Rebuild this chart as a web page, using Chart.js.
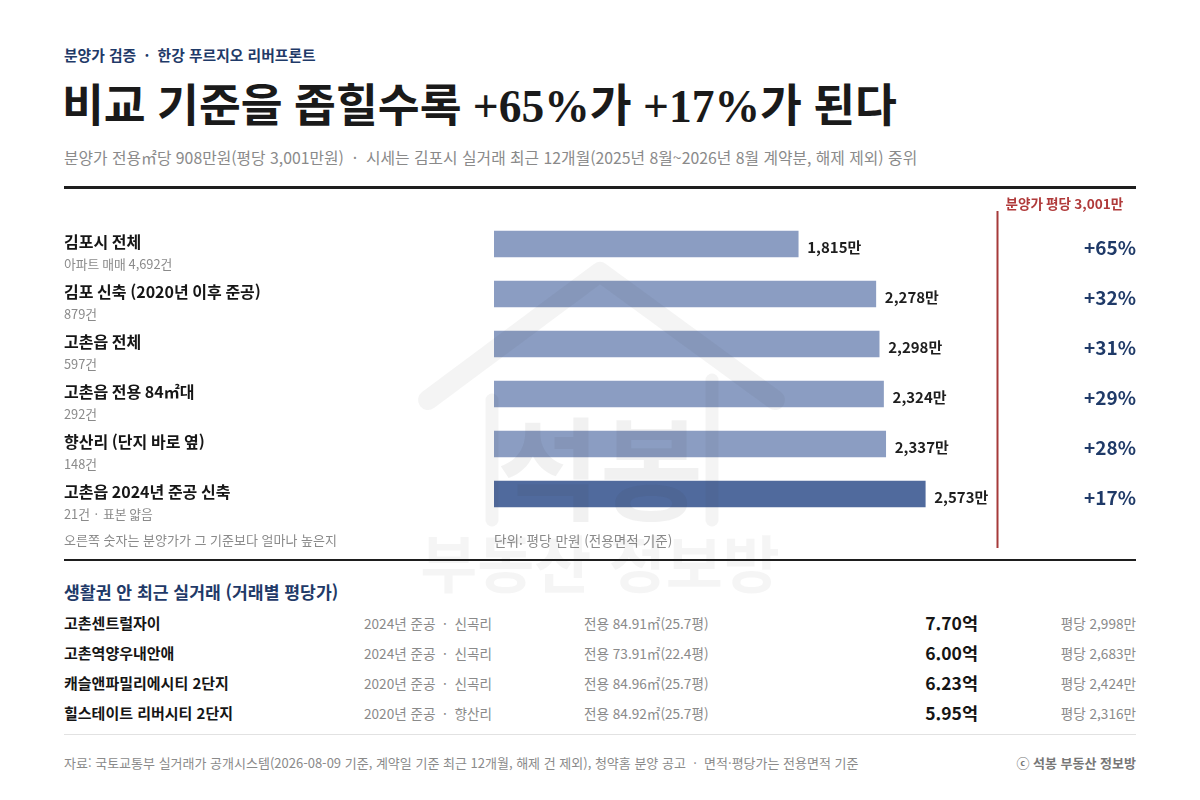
<!DOCTYPE html>
<html lang="ko">
<head>
<meta charset="utf-8">
<title>비교 기준을 좁힐수록 +65%가 +17%가 된다</title>
<script src="https://cdn.jsdelivr.net/npm/chart.js@4.4.0/dist/chart.umd.min.js"></script>
<style>
  body { margin: 0; background: #fff; font-family: "Noto Sans CJK KR", "Noto Sans", sans-serif; }
  #page { position: relative; width: 1200px; height: 800px; overflow: hidden; background: #fff; }
  .abs { position: absolute; white-space: nowrap; }
  .kicker { left: 64px; top: 44px; font-size: 14.8px; line-height: 22px; font-weight: 700; color: #1f3a68; }
  .title { left: 62px; top: 79px; font-size: 45.5px; line-height: 56px; font-weight: 700; color: #1a1a1a;
           font-family: "Liberation Serif", "Noto Sans CJK KR", serif; }
  .subtitle { left: 64px; top: 146px; font-size: 15.8px; line-height: 24px; color: #8a8a8a; }
  .rule-top { left: 64px; top: 186px; width: 1072px; height: 3px; background: #1e1e1e; }
  .rule-mid { left: 64px; top: 559px; width: 1072px; height: 2px; background: #1e1e1e; }
  .rule-light { left: 64px; top: 734px; width: 1072px; height: 1px; background: #e2e2e2; }
  .note { top: 530px; font-size: 13px; line-height: 20px; color: #8a8a8a; }
  #chartBox { position: absolute; left: 64px; top: 190px; width: 1072px; height: 370px; }
  .section { left: 64px; top: 579px; font-size: 17.2px; line-height: 26px; font-weight: 700; color: #1f3a68; }
  .row { position: absolute; left: 64px; width: 1072px; height: 24px; }
  .row span { position: absolute; top: 0; line-height: 24px; white-space: nowrap; }
  .c-name { left: 0; font-size: 15px; font-weight: 700; color: #151515; }
  .c-info { left: 300px; font-size: 13.6px; color: #8a8a8a; }
  .c-area { left: 520px; font-size: 13.6px; color: #8a8a8a; }
  .c-price { right: 158px; font-size: 17.5px; font-weight: 700; color: #151515; }
  .c-pp { right: 0; font-size: 13.6px; color: #8a8a8a; }
  .footer { top: 753px; font-size: 13px; line-height: 20px; color: #8a8a8a; }
  .brand { right: 64px; top: 753px; font-size: 13px; line-height: 20px; font-weight: 700; color: #777; }
  #mark { position: absolute; left: 400px; top: 250px; width: 420px; height: 350px; pointer-events: none; }
</style>
</head>
<body>
<div id="page">
  <div class="abs kicker">분양가 검증 &nbsp;·&nbsp; 한강 푸르지오 리버프론트</div>
  <div class="abs title">비교 기준을 좁힐수록 +65%가 +17%가 된다</div>
  <div class="abs subtitle">분양가 전용㎡당 908만원(평당 3,001만원) &nbsp;·&nbsp; 시세는 김포시 실거래 최근 12개월(2025년 8월~2026년 8월 계약분, 해제 제외) 중위</div>
  <div class="abs rule-top"></div>

  <div id="chartBox"><canvas id="barChart"></canvas></div>

  <div class="abs note" style="left:64px">오른쪽 숫자는 분양가가 그 기준보다 얼마나 높은지</div>
  <div class="abs note" style="left:494px; font-size:13.6px">단위: 평당 만원 (전용면적 기준)</div>
  <div class="abs rule-mid"></div>

  <div class="abs section">생활권 안 최근 실거래 (거래별 평당가)</div>
  <div id="dealRows"></div>
  <div class="abs rule-light"></div>

  <div class="abs footer" style="left:64px">자료: 국토교통부 실거래가 공개시스템(2026-08-09 기준, 계약일 기준 최근 12개월, 해제 건 제외), 청약홈 분양 공고 &nbsp;·&nbsp; 면적·평당가는 전용면적 기준</div>
  <div class="abs brand">ⓒ 석봉 부동산 정보방</div>

  <!-- faint logo watermark -->
  <svg id="mark" viewBox="0 0 420 350">
    <g fill="none" stroke="rgba(60,60,60,0.06)" stroke-linecap="round" stroke-linejoin="round">
      <path d="M28 150 L200 22 L375 150" stroke-width="20"/>
      <path d="M92 150 L92 270" stroke-width="13"/>
      <path d="M312 130 L312 270" stroke-width="13"/>
    </g>
    <text x="200" y="262" text-anchor="middle" font-size="112" font-weight="700"
          font-family="Noto Sans CJK KR" fill="rgba(60,60,60,0.07)">석봉</text>
    <text x="200" y="338" text-anchor="middle" font-size="62" font-weight="700"
          font-family="Noto Sans CJK KR" fill="rgba(60,60,60,0.05)">부동산 정보방</text>
  </svg>
</div>

<script>
// ---- chart data ----
const categories = [
    '김포시 전체',
    '김포 신축 (2020년 이후 준공)',
    '고촌읍 전체',
    '고촌읍 전용 84㎡대',
    '향산리 (단지 바로 옆)',
    '고촌읍 2024년 준공 신축'
];
const sampleNotes = ['아파트 매매 4,692건', '879건', '597건', '292건', '148건', '21건 · 표본 얇음'];
const medianPerPyeong = [1815, 2278, 2298, 2324, 2337, 2573];
const salePerPyeong = 3001;

// ---- nearby deals table ----
const dealNames = ['고촌센트럴자이', '고촌역양우내안애', '캐슬앤파밀리에시티 2단지', '힐스테이트 리버시티 2단지'];
const dealInfo = ['2024년 준공 · 신곡리', '2024년 준공 · 신곡리', '2020년 준공 · 신곡리', '2020년 준공 · 향산리'];
const dealAreas = ['전용 84.91㎡(25.7평)', '전용 73.91㎡(22.4평)', '전용 84.96㎡(25.7평)', '전용 84.92㎡(25.7평)'];
const dealPrices = ['7.70억', '6.00억', '6.23억', '5.95억'];
const dealPerPyeong = ['평당 2,998만', '평당 2,683만', '평당 2,424만', '평당 2,316만'];

const FONT = '"Noto Sans CJK KR", "Noto Sans", sans-serif';

// table rows
const rowsBox = document.getElementById('dealRows');
dealNames.forEach((name, i) => {
    const row = document.createElement('div');
    row.className = 'row';
    row.style.top = (611 + i * 30) + 'px';
    row.innerHTML =
        `<span class="c-name">${name}</span>` +
        `<span class="c-info">${dealInfo[i].replace(' · ', ' &nbsp;·&nbsp; ')}</span>` +
        `<span class="c-area">${dealAreas[i]}</span>` +
        `<span class="c-price">${dealPrices[i]}</span>` +
        `<span class="c-pp">${dealPerPyeong[i]}</span>`;
    rowsBox.appendChild(row);
});

// labels, value tags, premium column and the sale-price line
const annotatePlugin = {
    id: 'annotate',
    afterDatasetsDraw(chart) {
        const { ctx, scales } = chart;
        const xs = scales.x;
        const meta = chart.getDatasetMeta(0);
        ctx.save();

        // sale price reference line
        const lx = Math.round(xs.getPixelForValue(salePerPyeong)) + 0.5;
        ctx.strokeStyle = '#a63a3a';
        ctx.lineWidth = 2;
        ctx.beginPath();
        ctx.moveTo(lx, 21);
        ctx.lineTo(lx, 358);
        ctx.stroke();
        ctx.fillStyle = '#b03a3a';
        ctx.font = `700 13.6px ${FONT}`;
        ctx.textAlign = 'left';
        ctx.textBaseline = 'middle';
        ctx.fillText(`분양가 평당 ${salePerPyeong.toLocaleString('en-US')}만`, lx + 8, 14);

        meta.data.forEach((bar, i) => {
            const y = bar.y;
            // left category label + sample note
            ctx.textAlign = 'left';
            ctx.fillStyle = '#161616';
            ctx.font = `700 16px ${FONT}`;
            ctx.fillText(categories[i], 0, y - 2);
            ctx.fillStyle = '#8a8a8a';
            ctx.font = `400 12.8px ${FONT}`;
            ctx.fillText(sampleNotes[i], 0, y + 20);

            // value tag after the bar
            ctx.fillStyle = '#1e1e1e';
            ctx.font = `700 15px ${FONT}`;
            ctx.fillText(medianPerPyeong[i].toLocaleString('en-US') + '만', bar.x + 9, y + 3);

            // premium of the sale price over this benchmark
            const pct = Math.round((salePerPyeong / medianPerPyeong[i] - 1) * 100);
            ctx.textAlign = 'right';
            ctx.fillStyle = '#1f3a68';
            ctx.font = `700 19px ${FONT}`;
            ctx.fillText('+' + pct + '%', chart.width, y + 4);
        });
        ctx.restore();
    }
};

new Chart(document.getElementById('barChart'), {
    type: 'bar',
    data: {
        labels: categories,
        datasets: [{
            data: medianPerPyeong,
            backgroundColor: medianPerPyeong.map((v, i) => i === medianPerPyeong.length - 1 ? '#506a9d' : '#8b9dc2'),
            borderWidth: 0,
            barThickness: 26
        }]
    },
    options: {
        indexAxis: 'y',
        responsive: true,
        maintainAspectRatio: false,
        animation: false,
        layout: { padding: { left: 430, right: 139, top: 29, bottom: 41 } },
        plugins: {
            legend: { display: false },
            tooltip: { enabled: false }
        },
        scales: {
            x: { display: false, min: 0, max: salePerPyeong },
            y: { display: false, grid: { display: false } }
        }
    },
    plugins: [annotatePlugin]
});
</script>
</body>
</html>
